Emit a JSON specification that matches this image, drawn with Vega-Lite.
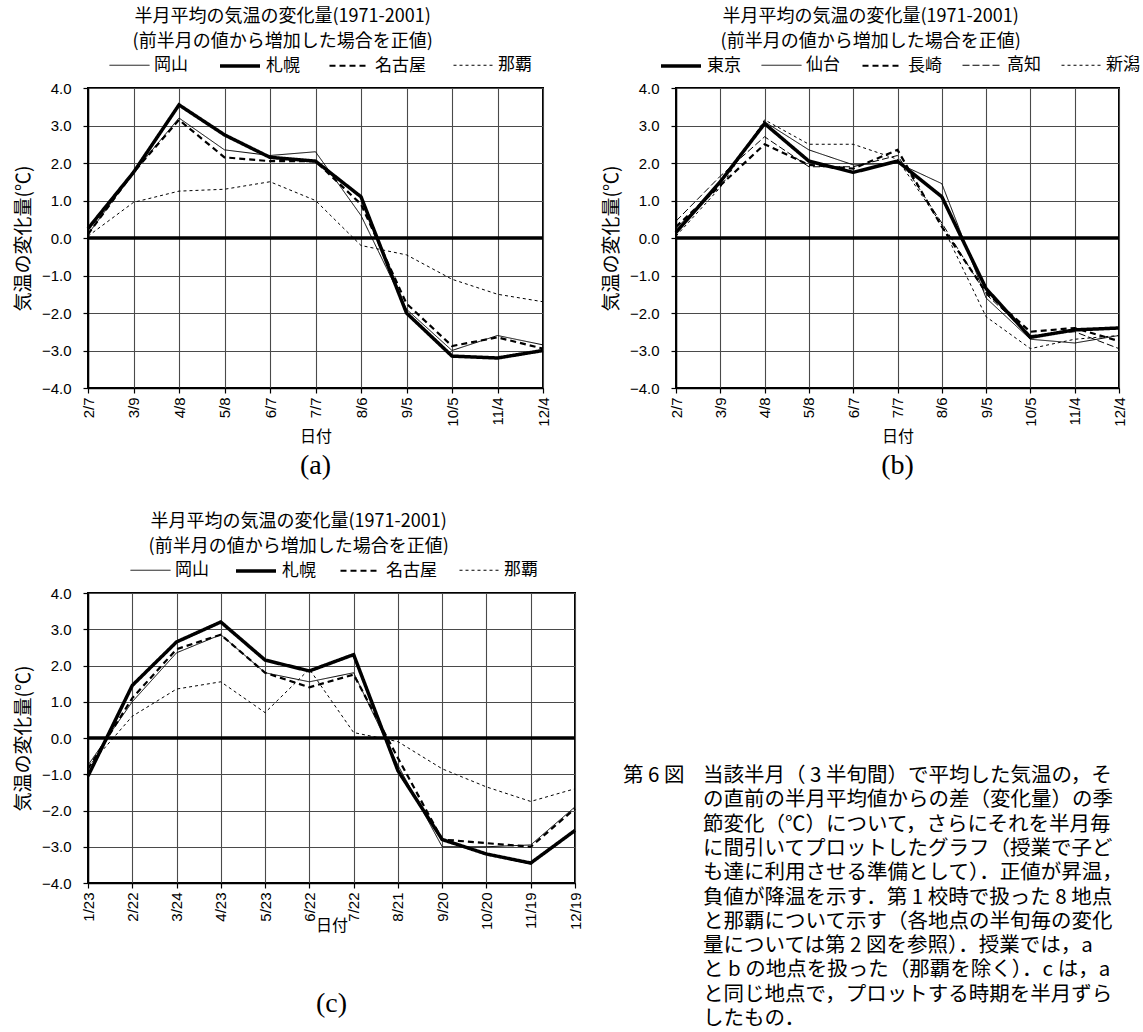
{
  "$schema": "https://vega.github.io/schema/vega-lite/v6.json",
  "padding": {"left": 13, "top": 8, "right": 5, "bottom": 3},
  "background": "white",
  "datasets": {
    "zero": [{"value": 0}],
    "a": [
      {"date": "2/7", "series": "岡山", "value": 0.1}, {"date": "3/9", "series": "岡山", "value": 1.75}, {"date": "4/8", "series": "岡山", "value": 3.2}, {"date": "5/8", "series": "岡山", "value": 2.35}, {"date": "6/7", "series": "岡山", "value": 2.2}, {"date": "7/7", "series": "岡山", "value": 2.3}, {"date": "8/6", "series": "岡山", "value": 0.6}, {"date": "9/5", "series": "岡山", "value": -1.9}, {"date": "10/5", "series": "岡山", "value": -3.0}, {"date": "11/4", "series": "岡山", "value": -2.6}, {"date": "12/4", "series": "岡山", "value": -2.85},
      {"date": "2/7", "series": "札幌", "value": 0.25}, {"date": "3/9", "series": "札幌", "value": 1.75}, {"date": "4/8", "series": "札幌", "value": 3.55}, {"date": "5/8", "series": "札幌", "value": 2.75}, {"date": "6/7", "series": "札幌", "value": 2.15}, {"date": "7/7", "series": "札幌", "value": 2.05}, {"date": "8/6", "series": "札幌", "value": 1.1}, {"date": "9/5", "series": "札幌", "value": -2.0}, {"date": "10/5", "series": "札幌", "value": -3.15}, {"date": "11/4", "series": "札幌", "value": -3.2}, {"date": "12/4", "series": "札幌", "value": -3.0},
      {"date": "2/7", "series": "名古屋", "value": 0.1}, {"date": "3/9", "series": "名古屋", "value": 1.75}, {"date": "4/8", "series": "名古屋", "value": 3.15}, {"date": "5/8", "series": "名古屋", "value": 2.15}, {"date": "6/7", "series": "名古屋", "value": 2.05}, {"date": "7/7", "series": "名古屋", "value": 2.05}, {"date": "8/6", "series": "名古屋", "value": 0.9}, {"date": "9/5", "series": "名古屋", "value": -1.75}, {"date": "10/5", "series": "名古屋", "value": -2.88}, {"date": "11/4", "series": "名古屋", "value": -2.65}, {"date": "12/4", "series": "名古屋", "value": -2.95},
      {"date": "2/7", "series": "那覇", "value": 0.05}, {"date": "3/9", "series": "那覇", "value": 0.95}, {"date": "4/8", "series": "那覇", "value": 1.25}, {"date": "5/8", "series": "那覇", "value": 1.3}, {"date": "6/7", "series": "那覇", "value": 1.5}, {"date": "7/7", "series": "那覇", "value": 1.0}, {"date": "8/6", "series": "那覇", "value": -0.2}, {"date": "9/5", "series": "那覇", "value": -0.45}, {"date": "10/5", "series": "那覇", "value": -1.1}, {"date": "11/4", "series": "那覇", "value": -1.5}, {"date": "12/4", "series": "那覇", "value": -1.7}
    ],
    "b": [
      {"date": "2/7", "series": "東京", "value": 0.15}, {"date": "3/9", "series": "東京", "value": 1.5}, {"date": "4/8", "series": "東京", "value": 3.05}, {"date": "5/8", "series": "東京", "value": 2.05}, {"date": "6/7", "series": "東京", "value": 1.75}, {"date": "7/7", "series": "東京", "value": 2.05}, {"date": "8/6", "series": "東京", "value": 1.1}, {"date": "9/5", "series": "東京", "value": -1.35}, {"date": "10/5", "series": "東京", "value": -2.65}, {"date": "11/4", "series": "東京", "value": -2.45}, {"date": "12/4", "series": "東京", "value": -2.4},
      {"date": "2/7", "series": "仙台", "value": 0.25}, {"date": "3/9", "series": "仙台", "value": 1.45}, {"date": "4/8", "series": "仙台", "value": 3.1}, {"date": "5/8", "series": "仙台", "value": 2.35}, {"date": "6/7", "series": "仙台", "value": 1.95}, {"date": "7/7", "series": "仙台", "value": 2.0}, {"date": "8/6", "series": "仙台", "value": 1.45}, {"date": "9/5", "series": "仙台", "value": -1.6}, {"date": "10/5", "series": "仙台", "value": -2.7}, {"date": "11/4", "series": "仙台", "value": -2.8}, {"date": "12/4", "series": "仙台", "value": -2.6},
      {"date": "2/7", "series": "長崎", "value": 0.3}, {"date": "3/9", "series": "長崎", "value": 1.4}, {"date": "4/8", "series": "長崎", "value": 2.5}, {"date": "5/8", "series": "長崎", "value": 1.95}, {"date": "6/7", "series": "長崎", "value": 1.85}, {"date": "7/7", "series": "長崎", "value": 2.35}, {"date": "8/6", "series": "長崎", "value": 0.3}, {"date": "9/5", "series": "長崎", "value": -1.45}, {"date": "10/5", "series": "長崎", "value": -2.5}, {"date": "11/4", "series": "長崎", "value": -2.4}, {"date": "12/4", "series": "長崎", "value": -2.75},
      {"date": "2/7", "series": "高知", "value": 0.45}, {"date": "3/9", "series": "高知", "value": 1.65}, {"date": "4/8", "series": "高知", "value": 2.7}, {"date": "5/8", "series": "高知", "value": 1.9}, {"date": "6/7", "series": "高知", "value": 1.9}, {"date": "7/7", "series": "高知", "value": 2.2}, {"date": "8/6", "series": "高知", "value": 0.4}, {"date": "9/5", "series": "高知", "value": -1.5}, {"date": "10/5", "series": "高知", "value": -2.6}, {"date": "11/4", "series": "高知", "value": -2.5}, {"date": "12/4", "series": "高知", "value": -2.95},
      {"date": "2/7", "series": "新潟", "value": 0.05}, {"date": "3/9", "series": "新潟", "value": 1.35}, {"date": "4/8", "series": "新潟", "value": 3.15}, {"date": "5/8", "series": "新潟", "value": 2.5}, {"date": "6/7", "series": "新潟", "value": 2.5}, {"date": "7/7", "series": "新潟", "value": 2.1}, {"date": "8/6", "series": "新潟", "value": 0.35}, {"date": "9/5", "series": "新潟", "value": -2.1}, {"date": "10/5", "series": "新潟", "value": -2.95}, {"date": "11/4", "series": "新潟", "value": -2.7}, {"date": "12/4", "series": "新潟", "value": -2.6}
    ],
    "c": [
      {"date": "1/23", "series": "岡山", "value": -0.75}, {"date": "2/22", "series": "岡山", "value": 1.0}, {"date": "3/24", "series": "岡山", "value": 2.35}, {"date": "4/23", "series": "岡山", "value": 2.85}, {"date": "5/23", "series": "岡山", "value": 1.8}, {"date": "6/22", "series": "岡山", "value": 1.55}, {"date": "7/22", "series": "岡山", "value": 1.8}, {"date": "8/21", "series": "岡山", "value": -0.75}, {"date": "9/20", "series": "岡山", "value": -3.0}, {"date": "10/20", "series": "岡山", "value": -3.0}, {"date": "11/19", "series": "岡山", "value": -2.95}, {"date": "12/19", "series": "岡山", "value": -1.9},
      {"date": "1/23", "series": "札幌", "value": -1.05}, {"date": "2/22", "series": "札幌", "value": 1.45}, {"date": "3/24", "series": "札幌", "value": 2.65}, {"date": "4/23", "series": "札幌", "value": 3.2}, {"date": "5/23", "series": "札幌", "value": 2.15}, {"date": "6/22", "series": "札幌", "value": 1.85}, {"date": "7/22", "series": "札幌", "value": 2.3}, {"date": "8/21", "series": "札幌", "value": -0.9}, {"date": "9/20", "series": "札幌", "value": -2.8}, {"date": "10/20", "series": "札幌", "value": -3.2}, {"date": "11/19", "series": "札幌", "value": -3.45}, {"date": "12/19", "series": "札幌", "value": -2.55},
      {"date": "1/23", "series": "名古屋", "value": -0.85}, {"date": "2/22", "series": "名古屋", "value": 1.1}, {"date": "3/24", "series": "名古屋", "value": 2.45}, {"date": "4/23", "series": "名古屋", "value": 2.85}, {"date": "5/23", "series": "名古屋", "value": 1.8}, {"date": "6/22", "series": "名古屋", "value": 1.4}, {"date": "7/22", "series": "名古屋", "value": 1.75}, {"date": "8/21", "series": "名古屋", "value": -0.55}, {"date": "9/20", "series": "名古屋", "value": -2.8}, {"date": "10/20", "series": "名古屋", "value": -2.9}, {"date": "11/19", "series": "名古屋", "value": -3.0}, {"date": "12/19", "series": "名古屋", "value": -1.95},
      {"date": "1/23", "series": "那覇", "value": -0.8}, {"date": "2/22", "series": "那覇", "value": 0.6}, {"date": "3/24", "series": "那覇", "value": 1.35}, {"date": "4/23", "series": "那覇", "value": 1.55}, {"date": "5/23", "series": "那覇", "value": 0.7}, {"date": "6/22", "series": "那覇", "value": 1.9}, {"date": "7/22", "series": "那覇", "value": 0.15}, {"date": "8/21", "series": "那覇", "value": -0.1}, {"date": "9/20", "series": "那覇", "value": -0.85}, {"date": "10/20", "series": "那覇", "value": -1.35}, {"date": "11/19", "series": "那覇", "value": -1.75}, {"date": "12/19", "series": "那覇", "value": -1.4}
    ],
    "caption": [
      {"line": 1, "col": "label", "text": "第 6 図"},
      {"line": 1, "col": "body", "text": "当該半月（ 3 半旬間）で平均した気温の，そ"},
      {"line": 2, "col": "body", "text": "の直前の半月平均値からの差（変化量）の季"},
      {"line": 3, "col": "body", "text": "節変化（℃）について，さらにそれを半月毎"},
      {"line": 4, "col": "body", "text": "に間引いてプロットしたグラフ（授業で子ど"},
      {"line": 5, "col": "body", "text": "も達に利用させる準備として）．正値が昇温，"},
      {"line": 6, "col": "body", "text": "負値が降温を示す．第 1 校時で扱った 8 地点"},
      {"line": 7, "col": "body", "text": "と那覇について示す（各地点の半旬毎の変化"},
      {"line": 8, "col": "body", "text": "量については第 2 図を参照）．授業では，a"},
      {"line": 9, "col": "body", "text": "と b の地点を扱った（那覇を除く）．c は，a"},
      {"line": 10, "col": "body", "text": "と同じ地点で，プロットする時期を半月ずら"},
      {"line": 11, "col": "body", "text": "したもの．"}
    ]
  },
  "spacing": 31,
  "resolve": {"scale": {"strokeDash": "independent", "strokeWidth": "independent"}, "legend": {"strokeDash": "independent", "strokeWidth": "independent"}},
  "vconcat": [
    {
      "spacing": 49,
      "resolve": {"scale": {"strokeDash": "independent", "strokeWidth": "independent"}, "legend": {"strokeDash": "independent", "strokeWidth": "independent"}},
      "hconcat": [
        {
          "title": {"text": ["半月平均の気温の変化量(1971-2001)", "(前半月の値から増加した場合を正値)"]},
          "vconcat": [
            {
              "width": 455,
              "height": 300,
              "title": {"text": "(a)", "orient": "bottom", "font": "Liberation Serif", "fontSize": 28, "lineHeight": 28, "offset": 8, "frame": "group"},
              "layer": [
                {
                  "data": {"name": "zero"},
                  "mark": {"type": "rule", "color": "black", "strokeWidth": 3.5},
                  "encoding": {"y": {"field": "value", "type": "quantitative", "scale": {"domain": [-4, 4]}, "axis": {"values": [-4, -3, -2, -1, 0, 1, 2, 3, 4], "format": ".1f", "title": "気温の変化量(℃)", "grid": true}}}
                },
                {
                  "data": {"name": "a"},
                  "mark": {"type": "line", "color": "black"},
                  "encoding": {
                    "x": {"field": "date", "type": "ordinal", "sort": null, "scale": {"type": "point", "padding": 0}, "axis": {"labelAngle": -90, "title": "日付", "grid": true}},
                    "y": {"field": "value", "type": "quantitative", "scale": {"domain": [-4, 4]}, "axis": {"values": [-4, -3, -2, -1, 0, 1, 2, 3, 4], "format": ".1f", "title": "気温の変化量(℃)", "grid": true}},
                    "strokeDash": {"field": "series", "type": "nominal", "scale": {"domain": ["岡山", "札幌", "名古屋", "那覇"], "range": [[1, 0], [1, 0], [6, 4], [3, 3]]}, "legend": {"title": null, "orient": "none", "legendX": 21, "legendY": -44, "direction": "horizontal", "columnPadding": 25}},
                    "strokeWidth": {"field": "series", "type": "nominal", "scale": {"type": "ordinal", "domain": ["岡山", "札幌", "名古屋", "那覇"], "range": [1, 3.5, 2.2, 1]}, "legend": {"title": null, "orient": "none", "legendX": 21, "legendY": -44, "direction": "horizontal", "columnPadding": 25}}
                  }
                }
              ]
            }
          ]
        },
        {
          "title": {"text": ["半月平均の気温の変化量(1971-2001)", "(前半月の値から増加した場合を正値)"]},
          "vconcat": [
            {
              "width": 443,
              "height": 300,
              "title": {"text": "(b)", "orient": "bottom", "font": "Liberation Serif", "fontSize": 28, "lineHeight": 28, "offset": 8, "frame": "group"},
              "layer": [
                {
                  "data": {"name": "zero"},
                  "mark": {"type": "rule", "color": "black", "strokeWidth": 3.5},
                  "encoding": {"y": {"field": "value", "type": "quantitative", "scale": {"domain": [-4, 4]}, "axis": {"values": [-4, -3, -2, -1, 0, 1, 2, 3, 4], "format": ".1f", "title": "気温の変化量(℃)", "grid": true}}}
                },
                {
                  "data": {"name": "b"},
                  "mark": {"type": "line", "color": "black"},
                  "encoding": {
                    "x": {"field": "date", "type": "ordinal", "sort": null, "scale": {"type": "point", "padding": 0}, "axis": {"labelAngle": -90, "title": "日付", "grid": true}},
                    "y": {"field": "value", "type": "quantitative", "scale": {"domain": [-4, 4]}, "axis": {"values": [-4, -3, -2, -1, 0, 1, 2, 3, 4], "format": ".1f", "title": "気温の変化量(℃)", "grid": true}},
                    "strokeDash": {"field": "series", "type": "nominal", "scale": {"domain": ["東京", "仙台", "長崎", "高知", "新潟"], "range": [[1, 0], [1, 0], [6, 4], [7, 3], [3, 3]]}, "legend": {"title": null, "orient": "none", "legendX": -17, "legendY": -44, "direction": "horizontal", "columnPadding": 18}},
                    "strokeWidth": {"field": "series", "type": "nominal", "scale": {"type": "ordinal", "domain": ["東京", "仙台", "長崎", "高知", "新潟"], "range": [3.5, 1, 2.2, 1, 1]}, "legend": {"title": null, "orient": "none", "legendX": -17, "legendY": -44, "direction": "horizontal", "columnPadding": 18}}
                  }
                }
              ]
            }
          ]
        }
      ]
    },
    {
      "spacing": 37,
      "resolve": {"scale": {"strokeDash": "independent", "strokeWidth": "independent"}, "legend": {"strokeDash": "independent", "strokeWidth": "independent"}},
      "hconcat": [
        {
          "title": {"text": ["半月平均の気温の変化量(1971-2001)", "(前半月の値から増加した場合を正値)"]},
          "vconcat": [
            {
              "width": 487,
              "height": 290,
              "title": {"text": "(c)", "orient": "bottom", "font": "Liberation Serif", "fontSize": 28, "lineHeight": 28, "offset": 56, "frame": "group"},
              "layer": [
                {
                  "data": {"name": "zero"},
                  "mark": {"type": "rule", "color": "black", "strokeWidth": 3.5},
                  "encoding": {"y": {"field": "value", "type": "quantitative", "scale": {"domain": [-4, 4]}, "axis": {"values": [-4, -3, -2, -1, 0, 1, 2, 3, 4], "format": ".1f", "title": "気温の変化量(℃)", "grid": true}}}
                },
                {
                  "data": {"name": "c"},
                  "mark": {"type": "line", "color": "black"},
                  "encoding": {
                    "x": {"field": "date", "type": "ordinal", "sort": null, "scale": {"type": "point", "padding": 0}, "axis": {"labelAngle": -90, "title": "日付", "titlePadding": -12, "grid": true}},
                    "y": {"field": "value", "type": "quantitative", "scale": {"domain": [-4, 4]}, "axis": {"values": [-4, -3, -2, -1, 0, 1, 2, 3, 4], "format": ".1f", "title": "気温の変化量(℃)", "grid": true}},
                    "strokeDash": {"field": "series", "type": "nominal", "scale": {"domain": ["岡山", "札幌", "名古屋", "那覇"], "range": [[1, 0], [1, 0], [6, 4], [3, 3]]}, "legend": {"title": null, "orient": "none", "legendX": 42, "legendY": -44, "direction": "horizontal", "columnPadding": 20}},
                    "strokeWidth": {"field": "series", "type": "nominal", "scale": {"type": "ordinal", "domain": ["岡山", "札幌", "名古屋", "那覇"], "range": [1, 3.5, 2.2, 1]}, "legend": {"title": null, "orient": "none", "legendX": 42, "legendY": -44, "direction": "horizontal", "columnPadding": 20}}
                  }
                }
              ]
            }
          ]
        },
        {
          "width": 515,
          "height": 440,
          "view": {"stroke": "transparent"},
          "data": {"name": "caption"},
          "mark": {"type": "text", "align": "left", "baseline": "middle", "font": "Noto Sans CJK JP", "fontSize": 20.5, "color": "black"},
          "encoding": {
            "x": {"field": "col", "type": "ordinal", "scale": {"type": "point", "domain": ["label", "body"], "range": [0, 80], "padding": 0}, "axis": null},
            "y": {"field": "line", "type": "ordinal", "scale": {"type": "point", "range": [183, 426], "padding": 0}, "axis": null},
            "text": {"field": "text"}
          }
        }
      ]
    }
  ],
  "config": {
    "font": "Noto Sans CJK JP",
    "view": {"stroke": "black", "strokeWidth": 2},
    "axis": {"labelFont": "Liberation Sans", "labelFontSize": 15, "labelColor": "black", "titleFont": "Noto Sans CJK JP", "titleFontSize": 16, "titleFontWeight": "normal", "titleColor": "black", "domainColor": "black", "domainWidth": 1.5, "tickColor": "black", "tickWidth": 1.2, "tickSize": 5, "gridColor": "#4a4a4a", "gridWidth": 1.1, "gridOpacity": 1},
    "axisY": {"labelPadding": 12, "titlePadding": 8, "titleFontSize": 19},
    "axisX": {"labelPadding": 4, "titlePadding": 2},
    "title": {"font": "Noto Sans CJK JP", "fontSize": 18, "fontWeight": "normal", "lineHeight": 25, "offset": -7, "color": "black", "anchor": "middle", "frame": "bounds"},
    "legend": {"labelFont": "Noto Sans CJK JP", "labelFontSize": 17, "labelColor": "black", "symbolType": "stroke", "symbolSize": 1600, "symbolStrokeColor": "black", "labelOffset": 4}
  }
}
